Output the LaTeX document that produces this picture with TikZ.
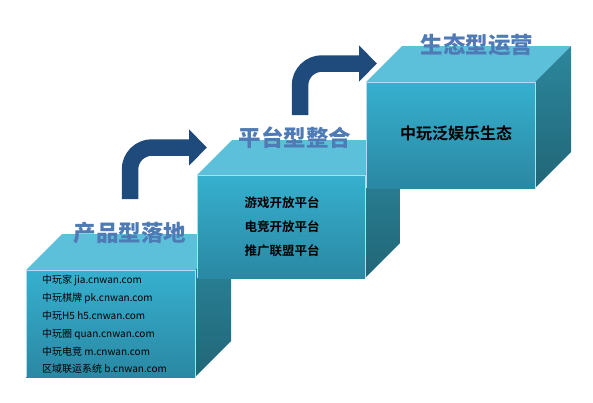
\documentclass[tikz,border=0pt]{standalone}
\usepackage{fontspec}
\setmainfont{Noto Sans CJK SC}[BoldFont={Noto Sans CJK SC Bold}]
\newfontfamily\heavyfont{Noto Sans CJK SC Black}
\usepackage{tikz}
\usetikzlibrary{arrows.meta}

\definecolor{frontTop}{HTML}{36B0CF}
\definecolor{frontBot}{HTML}{2A88A3}
\definecolor{topFace}{HTML}{5CC0DA}
\definecolor{sideTop}{HTML}{2C879D}
\definecolor{sideBot}{HTML}{216677}
\definecolor{titleBlue}{HTML}{4E7AB5}
\definecolor{arrowNavy}{HTML}{1F4A7C}

\tikzset{
  title/.style={font=\fontsize{22.5}{24}\heavyfont, text=titleBlue, inner sep=0pt},
  bend arrow/.style={arrowNavy, line width=16.5pt, rounded corners=22pt,
    -{Triangle[length=18pt,width=35pt]}},
}

% front corner (x,y), width, height, depth
\newcommand{\stairblock}[5]{%
  \fill[topFace] (#1,#2) -- ++(#5,-#5) -- ++(#3,0) -- ++(-#5,#5) -- cycle;
  \shade[top color=sideTop, bottom color=sideBot]
    (#1+#3,#2) -- ++(#5,-#5) -- ++(0,#4) -- ++(-#5,#5) -- cycle;
  \shade[top color=frontTop, bottom color=frontBot] (#1,#2) rectangle ++(#3,#4);
  \draw[white!60!frontTop, line width=0.6pt] (#1,#2+#4) -- (#1,#2) -- ++(#3,0) -- ++(0,#4);
}

\begin{document}
\begin{tikzpicture}[x=1pt,y=-1pt]
  \useasboundingbox (0,0) rectangle (593,402);

  % arrows
  \coordinate (a1s) at (130,199);
  \coordinate (a1e) at (207,147.5);
  \coordinate (a2s) at (300,115);
  \coordinate (a2e) at (377,63.5);
  \draw[bend arrow] (a1s) |- (a1e);
  \draw[bend arrow] (a2s) |- (a2e);

  % blocks
  \stairblock{26}{270}{169}{107}{36}
  \node[title] (t1) at (130,233) {产品型落地};
  \node[anchor=west, align=left, inner sep=0pt,
    font=\fontsize{10}{17.8}\selectfont] (list1) at (42,324.5)
    {中玩家 jia.cnwan.com\\中玩棋牌 pk.cnwan.com\\中玩H5 h5.cnwan.com\\
     中玩圈 quan.cnwan.com\\中玩电竞 m.cnwan.com\\区域联运系统 b.cnwan.com};

  \stairblock{197}{175}{168}{103}{35}
  \node[title] (t2) at (295,138) {平台型整合};
  \node[align=center, inner sep=0pt,
    font=\fontsize{12.5}{24}\selectfont\bfseries] (list2) at (282,227)
    {游戏开放平台\\电竞开放平台\\推广联盟平台};

  \stairblock{366}{82}{169}{106}{36}
  \node[title] (t3) at (477,45) {生态型运营};
  \node[inner sep=0pt, font=\fontsize{16}{18}\selectfont\bfseries] (eco) at (456,133)
    {中玩泛娱乐生态};
\end{tikzpicture}
\end{document}
